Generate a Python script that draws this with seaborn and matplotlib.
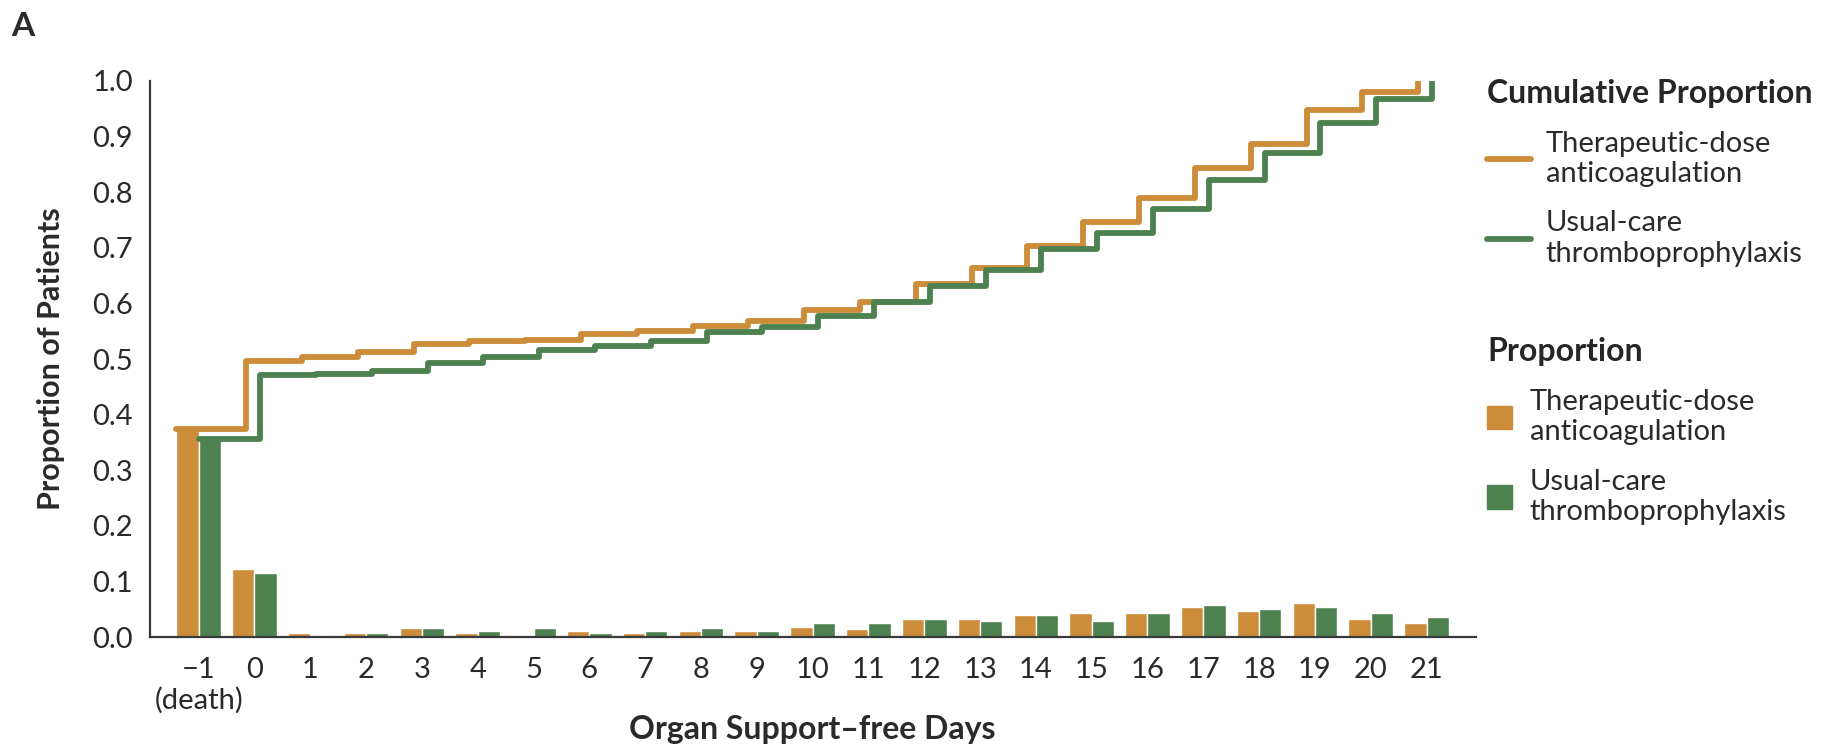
import matplotlib

matplotlib.use("Agg")
import matplotlib.pyplot as plt
import pandas as pd
import seaborn as sns
from matplotlib.lines import Line2D
from matplotlib.patches import Patch

# organ support-free days, -1 = death
days = list(range(-1, 22))
day_labels = ["\u22121\n(death)"] + [str(d) for d in range(0, 22)]
yticks = [i / 10 for i in range(11)]
ytick_labels = [f"{t:.1f}" for t in yticks]

groups = ["Therapeutic-dose\nanticoagulation", "Usual-care\nthromboprophylaxis"]

prop_therapeutic = [0.375, 0.123, 0.008, 0.008, 0.016, 0.008, 0.004, 0.011, 0.008,
                    0.011, 0.011, 0.019, 0.015, 0.033, 0.033, 0.040, 0.044, 0.044,
                    0.054, 0.047, 0.062, 0.033, 0.026]
prop_usual = [0.357, 0.116, 0.004, 0.008, 0.016, 0.011, 0.016, 0.008, 0.011,
              0.016, 0.011, 0.026, 0.026, 0.033, 0.029, 0.040, 0.029, 0.044,
              0.058, 0.051, 0.054, 0.044, 0.037]

cum_therapeutic = [0.375, 0.497, 0.504, 0.512, 0.527, 0.533, 0.535, 0.545, 0.551,
                   0.560, 0.569, 0.589, 0.602, 0.634, 0.664, 0.703, 0.746, 0.790,
                   0.843, 0.887, 0.948, 0.980, 1.0]
cum_usual = [0.357, 0.472, 0.473, 0.479, 0.493, 0.504, 0.516, 0.524, 0.533,
             0.548, 0.557, 0.578, 0.602, 0.631, 0.660, 0.698, 0.727, 0.769,
             0.822, 0.870, 0.924, 0.967, 1.0]

ORANGE = "#CD8C3A"
GREEN = "#4E8150"
INK = "#2a2a2a"
LW = 4.2

sns.set_style("white")
plt.rcParams["font.family"] = ["Lato", "DejaVu Sans"]

bars_df = pd.DataFrame({
    "day": days * 2,
    "group": [groups[0]] * len(days) + [groups[1]] * len(days),
    "prop": prop_therapeutic + prop_usual,
})

# step lines: orange starts at the left edge of its first bar, green at its own bar
x_ther = [days[0] - 0.4] + [d - 0.15 for d in days[1:]]
x_usual = [days[0]] + [d + 0.1 for d in days[1:]]
steps_df = pd.DataFrame({
    "x": x_ther + x_usual,
    "group": [groups[0]] * len(days) + [groups[1]] * len(days),
    "cum": cum_therapeutic + cum_usual,
})

fig, ax = plt.subplots(figsize=(18.24, 7.48), dpi=100)
fig.subplots_adjust(left=0.082, right=0.809, top=0.892, bottom=0.148)

sns.barplot(
    data=bars_df, x="day", y="prop", hue="group", native_scale=True,
    palette=[ORANGE, GREEN], width=0.8, gap=0, saturation=1,
    errorbar=None, legend=False, ax=ax,
)
sns.lineplot(
    data=steps_df, x="x", y="cum", hue="group", palette=[ORANGE, GREEN],
    drawstyle="steps-post", sort=False, estimator=None, linewidth=LW,
    legend=False, ax=ax,
)

ax.set_xlim(-1.88, 21.88)
ax.set_ylim(0, 1.0)
ax.set_xticks(days, day_labels)
ax.set_yticks(yticks, ytick_labels)
sns.despine(ax=ax)
for side in ("left", "bottom"):
    ax.spines[side].set_color("#3a3a3a")
    ax.spines[side].set_linewidth(1.6)
ax.tick_params(axis="both", direction="out", length=9, width=1.5,
               color="#3a3a3a", labelsize=21, labelcolor=INK)
ax.tick_params(axis="y", pad=3)
ax.tick_params(axis="x", pad=5)

ax.set_xlabel("Organ Support\u2013free Days", fontsize=23, fontweight="bold", color=INK)
ax.set_ylabel("Proportion of Patients", fontsize=22, fontweight="bold", color=INK)
ax.xaxis.set_label_coords(0.5, -0.14)
ax.yaxis.set_label_coords(-0.064, 0.5)

fig.text(0.006, 0.965, "A", fontsize=24, fontweight="bold", color=INK, va="center")

line_handles = [Line2D([], [], color=ORANGE, lw=LW), Line2D([], [], color=GREEN, lw=LW)]
fig.legend(
    handles=line_handles, labels=groups, title="Cumulative Proportion",
    loc="upper left", bbox_to_anchor=(0.801, 0.93), frameon=False,
    alignment="left", fontsize=21, labelcolor=INK,
    title_fontproperties={"weight": "bold", "size": 23},
    handlelength=1.5, handletextpad=0.5, labelspacing=0.8,
)
patch_handles = [Patch(color=ORANGE), Patch(color=GREEN)]
fig.legend(
    handles=patch_handles, labels=groups, title="Proportion",
    loc="upper left", bbox_to_anchor=(0.801, 0.585), frameon=False,
    alignment="left", fontsize=21, labelcolor=INK,
    title_fontproperties={"weight": "bold", "size": 23},
    handlelength=0.85, handleheight=0.85, handletextpad=0.6, labelspacing=0.8,
)

fig.savefig("out.png", dpi=100)
